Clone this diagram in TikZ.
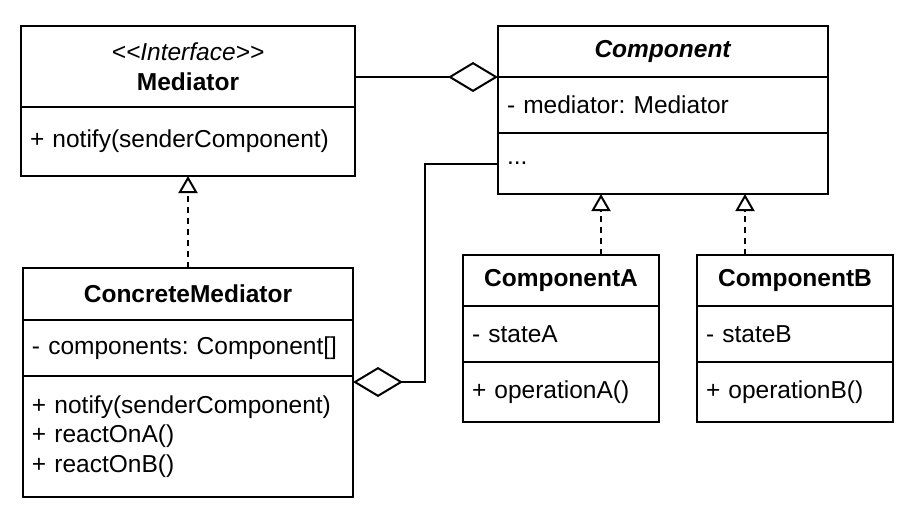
\documentclass[tikz,border=0pt]{standalone}
\usepackage{fontspec}
\newfontfamily\umlfont{Liberation Sans}
\usetikzlibrary{positioning,arrows.meta,calc}
\frenchspacing

\tikzset{
  part/.style={draw, line width=1pt, outer sep=0pt, inner xsep=4.5pt, inner ysep=0pt, align=left,
    font=\umlfont\fontsize{12.25}{14.75}\selectfont},
  aggr/.style={line width=1pt, -{Diamond[open, length=25pt, width=15pt, line width=1pt]}},
  realize/.style={line width=1pt, dash pattern=on 3pt off 2.5pt,
    -{Triangle[open, length=8.5pt, width=9.5pt, line width=1pt]}}
}

\begin{document}
\begin{tikzpicture}[x=0.5pt, y=-0.5pt]
        \useasboundingbox (0,0) rectangle (921,527);
        % Mediator
        \node[part, align=center, text width=158pt, minimum height=40.5pt, anchor=north west] (med-title) at (21,26) {\textit{<<Interface>>}\\\textbf{Mediator}};
        \node[part, text width=158pt, minimum height=34.5pt, below=0pt of med-title] (med-ops) {+ notify(senderComponent)};
        % Component
        \node[part, align=center, text width=156pt, minimum height=25.5pt, anchor=north west] (comp-title) at (498,26) {\textbf{\textit{Component}}};
        \node[part, text width=156pt, minimum height=28pt, below=0pt of comp-title] (comp-attr) {- mediator: Mediator};
        \node[part, text width=156pt, minimum height=30.5pt, below=0pt of comp-attr] (comp-ops) {...};
        % ConcreteMediator
        \node[part, align=center, text width=156pt, minimum height=26pt, anchor=north west] (cm-title) at (23,268) {\textbf{ConcreteMediator}};
        \node[part, text width=156pt, minimum height=28pt, below=0pt of cm-title] (cm-attr) {- components: Component[]};
        \node[part, text width=156pt, minimum height=60.5pt, below=0pt of cm-attr] (cm-ops) {+ notify(senderComponent)\\+ reactOnA()\\+ reactOnB()};
        % ComponentA
        \node[part, align=center, text width=89pt, minimum height=25.5pt, anchor=north west] (ca-title) at (463,255) {\textbf{ComponentA}};
        \node[part, text width=89pt, minimum height=28pt, below=0pt of ca-title] (ca-attr) {- stateA};
        \node[part, text width=89pt, minimum height=30pt, below=0pt of ca-attr] (ca-ops) {+ operationA()};
        % ComponentB
        \node[part, align=center, text width=89pt, minimum height=25.5pt, anchor=north west] (cb-title) at (697,255) {\textbf{ComponentB}};
        \node[part, text width=89pt, minimum height=28pt, below=0pt of cb-title] (cb-attr) {- stateB};
        \node[part, text width=89pt, minimum height=30pt, below=0pt of cb-attr] (cb-ops) {+ operationB()};

        \draw[aggr] (comp-title.south west -| med-title.east) -- (comp-title.south west);
        \draw[aggr] (comp-ops.west) -- ++(-36.5pt,0) |- ([yshift=-3pt]cm-ops.north east);
        \draw[realize] (cm-title.north) -- (med-ops.south);
        \draw[realize] ([xshift=20pt]ca-title.north) -- ([xshift=20pt]ca-title.north |- comp-ops.south);
        \draw[realize] ([xshift=-25pt]cb-title.north) -- ([xshift=-25pt]cb-title.north |- comp-ops.south);
    \end{tikzpicture}
\end{document}
